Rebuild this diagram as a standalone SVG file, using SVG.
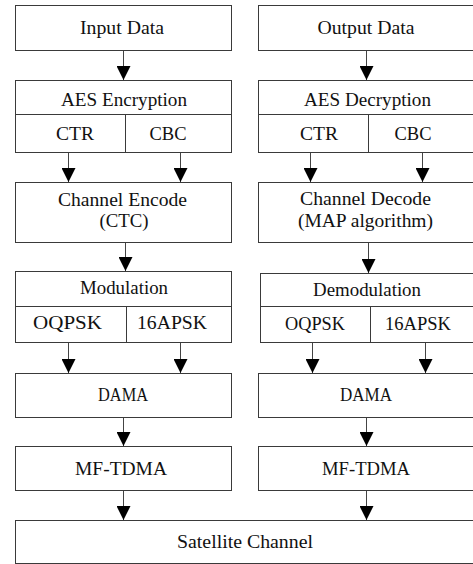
<svg xmlns="http://www.w3.org/2000/svg" width="473" height="564" viewBox="0 0 473 564">
<defs>
<style>
.box{fill:#fff;stroke:#3a3a3a;stroke-width:1}
.div{stroke:#3a3a3a;stroke-width:1}
.t{font-family:'Liberation Serif','Times New Roman',serif;font-size:19px;fill:#111;text-anchor:middle}
.ln{stroke:#444;stroke-width:1;fill:none}
</style>
<marker id="ah" markerWidth="14" markerHeight="14" viewBox="0 0 14 14" refX="14" refY="7" orient="auto" markerUnits="userSpaceOnUse">
<path d="M0,0 L14,7 L0,14 Z" fill="#000"/>
</marker>
</defs>
<rect width="473" height="564" fill="#fff"/>
<g id="input-data">
<rect class="box" x="15.5" y="5.5" width="216" height="45"/>
<text class="t" x="122" y="34" textLength="84" lengthAdjust="spacingAndGlyphs">Input Data</text>
</g>
<g id="aes-encryption">
<rect class="box" x="15.5" y="80.5" width="216" height="72"/>
<line class="div" x1="15.5" y1="114.5" x2="231.5" y2="114.5"/>
<line class="div" x1="125.5" y1="114.5" x2="125.5" y2="152.5"/>
<text class="t" x="124" y="106" textLength="126" lengthAdjust="spacingAndGlyphs">AES Encryption</text>
<text class="t" x="75" y="140" textLength="38" lengthAdjust="spacingAndGlyphs">CTR</text>
<text class="t" x="168" y="140" textLength="37" lengthAdjust="spacingAndGlyphs">CBC</text>
</g>
<g id="channel-encode">
<rect class="box" x="15.5" y="182.5" width="216" height="60"/>
<text class="t" x="122.5" y="206" textLength="129" lengthAdjust="spacingAndGlyphs">Channel Encode</text>
<text class="t" x="124" y="227" textLength="49" lengthAdjust="spacingAndGlyphs">(CTC)</text>
</g>
<g id="modulation">
<rect class="box" x="15.5" y="271.5" width="216" height="71"/>
<line class="div" x1="15.5" y1="306.5" x2="231.5" y2="306.5"/>
<line class="div" x1="126.5" y1="306.5" x2="126.5" y2="342.5"/>
<text class="t" x="124" y="294" textLength="88" lengthAdjust="spacingAndGlyphs">Modulation</text>
<text class="t" x="67.5" y="329" textLength="69" lengthAdjust="spacingAndGlyphs">OQPSK</text>
<text class="t" x="172" y="329" textLength="70" lengthAdjust="spacingAndGlyphs">16APSK</text>
</g>
<g id="dama-tx">
<rect class="box" x="15.5" y="373.5" width="216" height="44"/>
<text class="t" x="123" y="401" textLength="50" lengthAdjust="spacingAndGlyphs">DAMA</text>
</g>
<g id="mftdma-tx">
<rect class="box" x="15.5" y="446.5" width="216" height="44"/>
<text class="t" x="121" y="475" textLength="92" lengthAdjust="spacingAndGlyphs">MF-TDMA</text>
</g>

<g id="output-data">
<rect class="box" x="258.5" y="5.5" width="216" height="45"/>
<text class="t" x="366" y="34" textLength="97" lengthAdjust="spacingAndGlyphs">Output Data</text>
</g>
<g id="aes-decryption">
<rect class="box" x="258.5" y="80.5" width="216" height="72"/>
<line class="div" x1="258.5" y1="114.5" x2="474.5" y2="114.5"/>
<line class="div" x1="368.5" y1="114.5" x2="368.5" y2="152.5"/>
<text class="t" x="367.5" y="106" textLength="127" lengthAdjust="spacingAndGlyphs">AES Decryption</text>
<text class="t" x="319" y="140" textLength="38" lengthAdjust="spacingAndGlyphs">CTR</text>
<text class="t" x="413" y="140" textLength="37" lengthAdjust="spacingAndGlyphs">CBC</text>
</g>
<g id="channel-decode">
<rect class="box" x="258.5" y="182.5" width="216" height="60"/>
<text class="t" x="365.5" y="205" textLength="131" lengthAdjust="spacingAndGlyphs">Channel Decode</text>
<text class="t" x="365.5" y="227" textLength="135" lengthAdjust="spacingAndGlyphs">(MAP algorithm)</text>
</g>
<g id="demodulation">
<rect class="box" x="260.5" y="273.5" width="214" height="69"/>
<line class="div" x1="260.5" y1="306.5" x2="474.5" y2="306.5"/>
<line class="div" x1="370.5" y1="306.5" x2="370.5" y2="342.5"/>
<text class="t" x="367" y="296" textLength="108" lengthAdjust="spacingAndGlyphs">Demodulation</text>
<text class="t" x="315" y="330" textLength="60" lengthAdjust="spacingAndGlyphs">OQPSK</text>
<text class="t" x="418" y="330" textLength="66" lengthAdjust="spacingAndGlyphs">16APSK</text>
</g>
<g id="dama-rx">
<rect class="box" x="258.5" y="373.5" width="216" height="44"/>
<text class="t" x="366" y="401" textLength="52" lengthAdjust="spacingAndGlyphs">DAMA</text>
</g>
<g id="mftdma-rx">
<rect class="box" x="258.5" y="446.5" width="216" height="44"/>
<text class="t" x="366" y="475" textLength="88" lengthAdjust="spacingAndGlyphs">MF-TDMA</text>
</g>

<g id="satellite-channel">
<rect class="box" x="15.5" y="520.5" width="459" height="43"/>
<text class="t" x="245" y="548" textLength="136" lengthAdjust="spacingAndGlyphs">Satellite Channel</text>
</g>

<g id="connectors">
<line class="ln" x1="123.5" y1="51" x2="123.5" y2="80" marker-end="url(#ah)"/>
<line class="ln" x1="68.5" y1="153" x2="68.5" y2="182" marker-end="url(#ah)"/>
<line class="ln" x1="180.5" y1="153" x2="180.5" y2="182" marker-end="url(#ah)"/>
<line class="ln" x1="125.5" y1="243" x2="125.5" y2="271" marker-end="url(#ah)"/>
<line class="ln" x1="68.5" y1="343" x2="68.5" y2="373" marker-end="url(#ah)"/>
<line class="ln" x1="180.5" y1="343" x2="180.5" y2="373" marker-end="url(#ah)"/>
<line class="ln" x1="123.5" y1="418" x2="123.5" y2="446" marker-end="url(#ah)"/>
<line class="ln" x1="123.5" y1="491" x2="123.5" y2="520" marker-end="url(#ah)"/>
<line class="ln" x1="366.5" y1="51" x2="366.5" y2="80" marker-end="url(#ah)"/>
<line class="ln" x1="310.5" y1="153" x2="310.5" y2="182" marker-end="url(#ah)"/>
<line class="ln" x1="422.5" y1="153" x2="422.5" y2="182" marker-end="url(#ah)"/>
<line class="ln" x1="368.5" y1="243" x2="368.5" y2="273" marker-end="url(#ah)"/>
<line class="ln" x1="312.5" y1="343" x2="312.5" y2="373" marker-end="url(#ah)"/>
<line class="ln" x1="425.5" y1="343" x2="425.5" y2="373" marker-end="url(#ah)"/>
<line class="ln" x1="366.5" y1="418" x2="366.5" y2="446" marker-end="url(#ah)"/>
<line class="ln" x1="366.5" y1="491" x2="366.5" y2="520" marker-end="url(#ah)"/>
</g>
</svg>
